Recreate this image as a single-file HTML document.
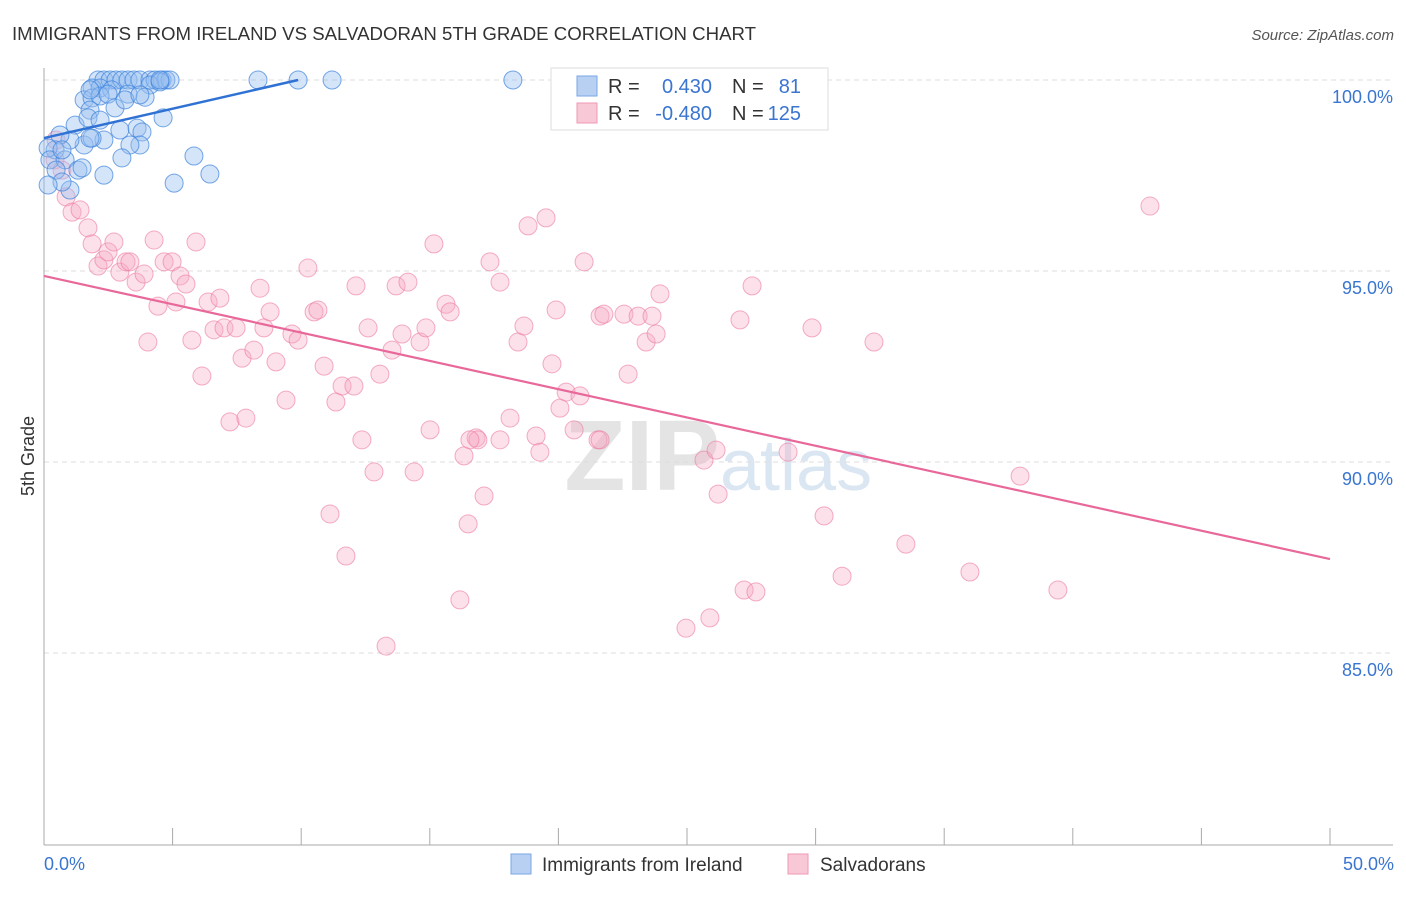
<!DOCTYPE html>
<html><head><meta charset="utf-8"><style>
body{margin:0;background:#fff;font-family:"Liberation Sans",sans-serif;}
svg text{font-family:"Liberation Sans",sans-serif;}
</style></head><body>
<svg id="chart" width="1406" height="892">
<text x="12" y="40" font-size="18" fill="#333" textLength="744" lengthAdjust="spacingAndGlyphs">IMMIGRANTS FROM IRELAND VS SALVADORAN 5TH GRADE CORRELATION CHART</text>
<text x="1394" y="40" font-size="15" fill="#555" text-anchor="end" font-style="italic">Source: ZipAtlas.com</text>
<text x="34" y="456" font-size="18" fill="#333" text-anchor="middle" transform="rotate(-90 34 456)">5th Grade</text>
<text x="720" y="490" font-size="100" fill="#e4e4e4" text-anchor="end" font-weight="bold">ZIP</text>
<text x="720" y="490" font-size="72" fill="#dbe6f3">atlas</text>
<g id="grid"></g><g id="axes"></g><g id="pts"></g><g id="lines"></g>
<g>
<rect x="551" y="68" width="277" height="62" fill="#fff" stroke="#ddd"/>
<rect x="577" y="76" width="20" height="20" fill="#b8d1f3" stroke="#7aa6e6"/>
<rect x="577" y="103" width="20" height="20" fill="#f9c8d6" stroke="#ee9ab4"/>
<text x="608" y="93" font-size="20" fill="#333">R =</text><text x="712" y="93" font-size="20" fill="#3a75d0" text-anchor="end">0.430</text>
<text x="732" y="93" font-size="20" fill="#333">N =</text><text x="801" y="93" font-size="20" fill="#3a75d0" text-anchor="end">81</text>
<text x="608" y="120" font-size="20" fill="#333">R =</text><text x="712" y="120" font-size="20" fill="#3a75d0" text-anchor="end">-0.480</text>
<text x="732" y="120" font-size="20" fill="#333">N =</text><text x="801" y="120" font-size="20" fill="#3a75d0" text-anchor="end">125</text>
</g>
<g>
<rect x="511" y="854" width="20" height="20" fill="#b8d1f3" stroke="#7aa6e6"/>
<text x="542" y="871" font-size="19" fill="#333">Immigrants from Ireland</text>
<rect x="788" y="854" width="20" height="20" fill="#f9c8d6" stroke="#ee9ab4"/>
<text x="820" y="871" font-size="19" fill="#333">Salvadorans</text>
</g>
</svg>
<script>
const yTicks=[100,95,90,85];
const yTickLabels=["100.0%","95.0%","90.0%","85.0%"];
const xTicks=[0,5,10,15,20,25,30,35,40,45,50];
const blueX=[2.10,2.33,2.57,2.80,3.03,3.27,3.50,3.73,4.12,4.32,4.59,4.74,4.90,8.32,9.88,11.20,18.23,1.87,2.18,2.63,4.12,4.51,1.56,1.87,2.18,2.49,3.27,3.93,1.79,2.76,4.63,1.21,1.71,2.33,2.95,3.62,3.81,3.73,3.34,1.56,1.87,1.01,0.62,0.43,0.16,0.23,0.82,1.32,2.33,3.03,5.83,6.45,5.06,1.01,0.47,0.70,1.48,0.16,1.79,0.70,2.18,3.15,3.73,1.79,4.51];
const blueY=[100,100,100,100,100,100,100,100,100,100,100,100,100,100,100,100,100,99.79,99.79,99.74,99.87,99.95,99.48,99.53,99.58,99.63,99.63,99.55,99.21,99.27,99.01,98.82,99.01,98.43,98.69,98.74,98.64,98.30,98.30,98.30,98.48,98.43,98.56,98.17,98.22,97.91,97.91,97.64,97.51,97.96,98.01,97.54,97.30,97.12,97.64,97.33,97.70,97.25,98.48,98.17,98.95,99.48,99.61,99.74,100];
const pinkX=[43.00,0.47,0.43,0.70,0.86,1.09,1.40,1.71,1.87,2.10,2.33,2.49,2.72,2.95,3.19,3.34,3.58,3.89,4.28,4.43,4.04,4.67,4.98,5.13,5.29,5.52,5.75,5.91,6.14,6.38,6.61,6.84,7.00,7.23,7.47,7.70,7.85,8.16,8.40,8.55,8.79,9.02,9.41,9.64,9.88,10.26,10.50,10.65,10.89,11.12,11.35,11.59,11.74,12.05,12.13,12.36,12.60,12.83,13.06,13.30,13.53,13.69,13.92,14.15,14.39,14.62,14.85,15.01,15.16,15.63,15.79,16.17,16.33,16.49,16.80,16.87,17.11,17.34,17.73,18.12,18.43,18.66,18.82,19.13,19.28,19.52,19.75,19.91,20.06,20.30,20.61,20.84,21.00,21.54,21.62,21.77,22.55,22.71,23.10,23.41,23.64,23.80,23.95,24.96,25.66,25.89,26.13,26.21,27.06,27.22,27.53,27.68,28.93,29.86,30.33,31.03,32.27,33.51,36.00,37.95,39.42,21.62,16.56,17.73];
const pinkY=[96.70,98.43,97.91,97.64,96.94,96.54,96.60,96.13,95.71,95.13,95.29,95.50,95.76,94.97,95.24,95.24,94.71,94.92,95.81,94.08,93.14,95.24,95.24,94.19,94.87,94.66,93.19,95.76,92.25,94.19,93.46,94.29,93.51,91.05,93.51,92.72,91.15,92.93,94.55,93.51,93.93,92.62,91.62,93.35,93.19,95.08,93.93,93.98,92.51,88.64,91.57,91.99,87.54,91.99,94.61,90.58,93.51,89.74,92.30,85.18,92.93,94.61,93.35,94.71,89.74,93.14,93.51,90.84,95.71,94.13,93.93,86.39,90.16,88.38,90.63,90.58,89.11,95.24,94.71,91.15,93.14,93.56,96.18,90.68,90.26,96.39,92.57,93.98,91.41,91.83,90.84,91.73,95.24,90.58,93.82,93.87,93.87,92.30,93.82,93.14,93.82,93.35,94.40,85.65,90.05,85.92,90.31,89.16,93.72,86.65,94.61,86.60,90.26,93.51,88.59,87.01,93.14,87.85,87.12,89.63,86.65,90.58,90.58,90.58];
const blueTrend=[[0,98.48],[9.88,100]];
const pinkTrend=[[0,94.87],[50,87.46]];
const NS="http://www.w3.org/2000/svg";
const X0=44,X1=1330,Y100=80,PX5=191;
function sx(v){return X0+(X1-X0)*v/50;}
function sy(v){return Y100+(100-v)/5*PX5;}
function mk(tag,attrs,parent){const e=document.createElementNS(NS,tag);for(const k in attrs)e.setAttribute(k,attrs[k]);document.getElementById(parent).appendChild(e);return e;}
yTicks.forEach((t,i)=>{
 const l=mk('line',{x1:44,x2:1393,y1:sy(t),y2:sy(t),stroke:'#ddd','stroke-dasharray':'5,4'},'grid');
 
 
 const tx=mk('text',{x:1393,y:sy(t)+23,'font-size':18,fill:'#3a75d0','text-anchor':'end'},'grid');
 tx.textContent=yTickLabels[i];
 
 
});
const ya=mk('line',{x1:44,x2:44,y1:68,y2:845,stroke:'#aaa'},'axes');


const xa=mk('line',{x1:44,x2:1393,y1:845,y2:845,stroke:'#aaa'},'axes');


xTicks.forEach(t=>{const l=mk('line',{x1:sx(t),x2:sx(t),y1:828,y2:845,stroke:'#aaa'},'axes');
 
 });
[[0,'0.0%','start',44],[50,'50.0%','end',1394]].forEach(a=>{const t=mk('text',{x:a[3],y:870,'font-size':18,fill:'#3a75d0','text-anchor':a[2]},'axes');t.textContent=a[1];
 
 });
pinkX.forEach((x,i)=>{const c=mk('circle',{cx:sx(x),cy:sy(pinkY[i]),r:9,fill:'rgba(246,170,195,0.35)',stroke:'rgba(236,120,160,0.6)','stroke-width':1},'pts');
 
 });
blueX.forEach((x,i)=>{const c=mk('circle',{cx:sx(x),cy:sy(blueY[i]),r:9,fill:'rgba(150,190,240,0.4)',stroke:'rgba(60,130,220,0.7)','stroke-width':1},'pts');
 
 });
const bl=mk('line',{x1:sx(blueTrend[0][0]),y1:sy(blueTrend[0][1]),x2:sx(blueTrend[1][0]),y2:sy(blueTrend[1][1]),stroke:'#2f72d3','stroke-width':2.5},'lines');


const pl=mk('line',{x1:sx(pinkTrend[0][0]),y1:sy(pinkTrend[0][1]),x2:sx(pinkTrend[1][0]),y2:sy(pinkTrend[1][1]),stroke:'#e8689a','stroke-width':2.2},'lines');


</script>
</body></html>
